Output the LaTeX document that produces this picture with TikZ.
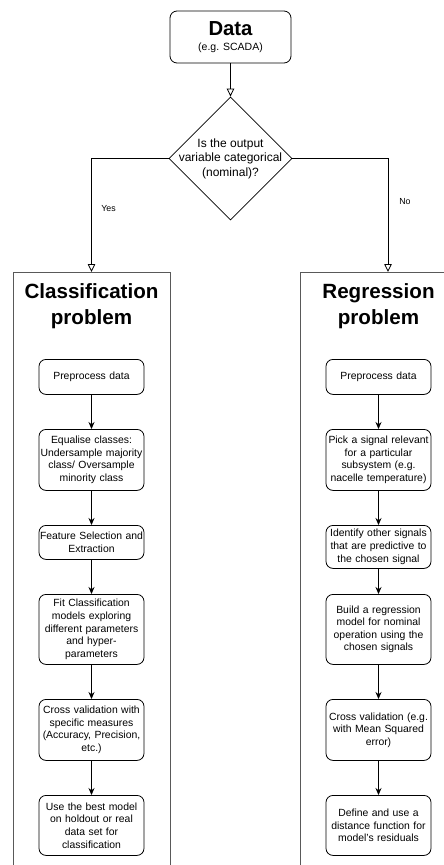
\documentclass[tikz,border=0pt]{standalone}
\usepackage{fontspec}
\setmainfont{Liberation Sans}
\usetikzlibrary{shapes.geometric,arrows.meta}

\tikzset{
  stepbox/.style={draw, rounded corners=7pt, line width=0.8pt, align=center, text width=103pt, inner xsep=1pt, font=\fontsize{10.4}{12.6}\selectfont, anchor=north},
  panel/.style={draw=black!65, line width=0.8pt, minimum height=640pt, anchor=north},
  paneltitle/.style={align=center, font=\fontsize{20.6}{26}\selectfont\bfseries},
  flow/.style={line width=0.8pt, -{Stealth[length=7pt,width=6pt]}},
  branch/.style={line width=0.8pt, -{Triangle[open,length=8pt,width=7.5pt]}},
  answer/.style={font=\fontsize{8.8}{10}\selectfont},
}

\begin{document}
\begin{tikzpicture}[x=1pt,y=-1pt]
    \clip (0,0) rectangle (444,865);
    % start and decision
    \node[draw, rounded corners=7pt, line width=0.8pt, minimum width=121pt, minimum height=52pt, align=center] (data) at (230.5,37) {{\fontsize{20.3}{22}\selectfont\bfseries Data}\\[3pt]{\fontsize{10.5}{12.6}\selectfont (e.g. SCADA)}};
    \node[draw, diamond, aspect=1, minimum width=123pt, minimum height=123pt, line width=0.8pt] (choice) at (230.5,158.5) {};
    \node[align=center, font=\fontsize{12}{14.5}\selectfont] (question) at (choice.center) {Is the output\\variable categorical\\(nominal)?};
    \draw[branch] (data) -- (choice);

    % the two panels
    \node[panel, minimum width=157pt] (clspanel) at (91.5,272) {};
    \node[panel, minimum width=176pt] (regpanel) at (388,272) {};
    \node[paneltitle] (clstitle) at (91.5,306) {Classification\\problem};
    \node[paneltitle] (regtitle) at (378.5,306) {Regression\\problem};
    \draw[branch] (choice.west) -| (clspanel.north);
    \draw[branch] (choice.east) -| (regpanel.north);
    \node[answer] (yes) at (108.5,209) {Yes};
    \node[answer] (no) at (405,202) {No};

    % classification steps
    \node[stepbox, minimum height=35pt] (c1) at (91.5,359) {Preprocess data};
    \node[stepbox, minimum height=61pt] (c2) at (91.5,429) {Equalise classes:\\Undersample majority\\class/ Oversample\\minority class};
    \node[stepbox, minimum height=34pt] (c3) at (91.5,525) {Feature Selection and\\Extraction};
    \node[stepbox, minimum height=70pt] (c4) at (91.5,594) {Fit Classification\\models exploring\\different parameters\\and hyper-\\parameters};
    \node[stepbox, minimum height=61pt] (c5) at (91.5,699) {Cross validation with\\specific measures\\(Accuracy, Precision,\\etc.)};
    \node[stepbox, minimum height=60pt] (c6) at (91.5,795) {Use the best model\\on holdout or real\\data set for\\classification};
    \draw[flow] (c1) -- (c2);
    \draw[flow] (c2) -- (c3);
    \draw[flow] (c3) -- (c4);
    \draw[flow] (c4) -- (c5);
    \draw[flow] (c5) -- (c6);

    % regression steps
    \node[stepbox, minimum height=35pt] (r1) at (378.5,359) {Preprocess data};
    \node[stepbox, minimum height=61pt] (r2) at (378.5,429) {Pick a signal relevant\\for a particular\\subsystem (e.g.\\nacelle temperature)};
    \node[stepbox, minimum height=43pt] (r3) at (378.5,525) {Identify other signals\\that are predictive to\\the chosen signal};
    \node[stepbox, minimum height=70pt] (r4) at (378.5,594) {Build a regression\\model for nominal\\operation using the\\chosen signals};
    \node[stepbox, minimum height=61pt] (r5) at (378.5,699) {Cross validation (e.g.\\with Mean Squared\\error)};
    \node[stepbox, minimum height=60pt] (r6) at (378.5,795) {Define and use a\\distance function for\\model's residuals};
    \draw[flow] (r1) -- (r2);
    \draw[flow] (r2) -- (r3);
    \draw[flow] (r3) -- (r4);
    \draw[flow] (r4) -- (r5);
    \draw[flow] (r5) -- (r6);
\end{tikzpicture}
\end{document}
